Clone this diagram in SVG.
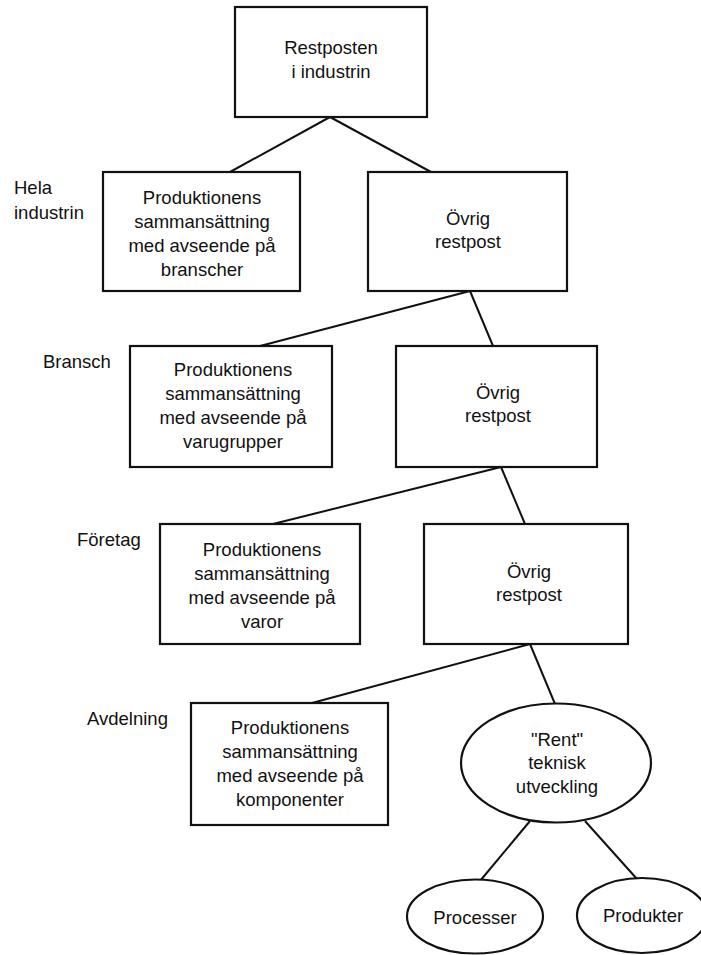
<svg xmlns="http://www.w3.org/2000/svg" width="701" height="955" viewBox="0 0 701 955">
<style>
  .box { fill: #fff; stroke: #111; stroke-width: 2.2; }
  .edge { stroke: #111; stroke-width: 2; fill: none; }
  text { font-family: "Liberation Sans", Arial, Helvetica, sans-serif; font-size: 18.5px; fill: #111; }
  .c { text-anchor: middle; }
</style>
<rect width="701" height="955" fill="#fff"/>
<g id="connectors">
  <line class="edge" x1="330" y1="117" x2="230" y2="172"/>
  <line class="edge" x1="330" y1="117" x2="431" y2="172"/>
  <line class="edge" x1="470" y1="291" x2="260" y2="346"/>
  <line class="edge" x1="470" y1="291" x2="493" y2="346"/>
  <line class="edge" x1="501" y1="467" x2="273" y2="524"/>
  <line class="edge" x1="501" y1="467" x2="525" y2="524"/>
  <line class="edge" x1="530" y1="644" x2="312" y2="703"/>
  <line class="edge" x1="530" y1="644" x2="555" y2="704"/>
  <line class="edge" x1="530" y1="821" x2="480" y2="881"/>
  <line class="edge" x1="585" y1="821" x2="637" y2="879"/>
</g>
<g id="levels">
  <text x="14" y="193.5">Hela</text>
  <text x="14" y="218.5">industrin</text>
  <text x="43" y="367.5">Bransch</text>
  <text x="77" y="545.5">Företag</text>
  <text x="87" y="724.5">Avdelning</text>
</g>
<g id="root">
  <rect class="box" x="235" y="7" width="192" height="110"/>
  <text class="c" x="331" y="53.5">Restposten</text>
  <text class="c" x="331" y="77.5">i industrin</text>
</g>
<g id="prod1">
  <rect class="box" x="103" y="172" width="197" height="119"/>
  <text class="c" x="202" y="203.5">Produktionens</text>
  <text class="c" x="202" y="227.5">sammansättning</text>
  <text class="c" x="202" y="251.5">med avseende på</text>
  <text class="c" x="202" y="275.5">branscher</text>
</g>
<g id="ovrig1">
  <rect class="box" x="368" y="172" width="199" height="119"/>
  <text class="c" x="468" y="224.5">Övrig</text>
  <text class="c" x="468" y="248">restpost</text>
</g>
<g id="prod2">
  <rect class="box" x="130" y="346" width="202" height="121"/>
  <text class="c" x="233" y="375.5">Produktionens</text>
  <text class="c" x="233" y="399.5">sammansättning</text>
  <text class="c" x="233" y="423.5">med avseende på</text>
  <text class="c" x="233" y="447.5">varugrupper</text>
</g>
<g id="ovrig2">
  <rect class="box" x="396" y="346" width="201" height="121"/>
  <text class="c" x="498" y="398.5">Övrig</text>
  <text class="c" x="498" y="422">restpost</text>
</g>
<g id="prod3">
  <rect class="box" x="160" y="524" width="200" height="120"/>
  <text class="c" x="262" y="555.5">Produktionens</text>
  <text class="c" x="262" y="579.5">sammansättning</text>
  <text class="c" x="262" y="603.5">med avseende på</text>
  <text class="c" x="262" y="627.5">varor</text>
</g>
<g id="ovrig3">
  <rect class="box" x="424" y="524" width="204" height="120"/>
  <text class="c" x="529" y="577.5">Övrig</text>
  <text class="c" x="529" y="601">restpost</text>
</g>
<g id="prod4">
  <rect class="box" x="191" y="703" width="197" height="122"/>
  <text class="c" x="290" y="733.5">Produktionens</text>
  <text class="c" x="290" y="757.5">sammansättning</text>
  <text class="c" x="290" y="781.5">med avseende på</text>
  <text class="c" x="290" y="805.5">komponenter</text>
</g>
<g id="rent">
  <ellipse class="box" cx="556" cy="763" rx="95" ry="59.5"/>
  <text class="c" x="557" y="745.5">"Rent"</text>
  <text class="c" x="557" y="769">teknisk</text>
  <text class="c" x="557" y="792.5">utveckling</text>
</g>
<g id="processer">
  <ellipse class="box" cx="475" cy="916.5" rx="68" ry="37"/>
  <text class="c" x="475" y="923.5">Processer</text>
</g>
<g id="produkter">
  <ellipse class="box" cx="642" cy="915.5" rx="65" ry="37.5"/>
  <text class="c" x="643" y="921.5">Produkter</text>
</g>
</svg>
